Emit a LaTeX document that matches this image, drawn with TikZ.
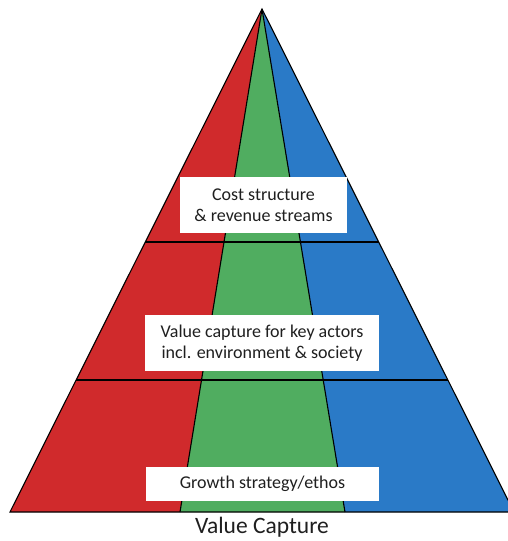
\documentclass[tikz,border=0pt]{standalone}
\usepackage{fontspec}
\setmainfont{Carlito}
\usetikzlibrary{calc}
\definecolor{pred}{HTML}{D02A2C}
\definecolor{pgreen}{HTML}{50AD60}
\definecolor{pblue}{HTML}{2A7AC7}
\begin{document}
\begin{tikzpicture}[x=1pt,y=-1pt,
  edge/.style={draw=black,line width=1.1pt},
  lbl/.style={fill=white,inner sep=0pt,font=\fontsize{18}{21}\selectfont,align=center,text=black!88}]
\useasboundingbox (0,0) rectangle (507,541);
\coordinate (A) at (262,9);
\coordinate (BL) at (10,512);
\coordinate (BR) at (514,512);
\coordinate (DL) at (180,512);
\coordinate (DR) at (345,512);
\fill[pred] (A) -- (BL) -- (DL) -- cycle;
\fill[pgreen] (A) -- (DL) -- (DR) -- cycle;
\fill[pblue] (A) -- (DR) -- (BR) -- cycle;
\draw[edge] (A) -- (DL);
\draw[edge] (A) -- (DR);
\coordinate (L1a) at ($(A)!0.4632!(BL)$);
\coordinate (L1b) at ($(A)!0.4632!(BR)$);
\coordinate (L2a) at ($(A)!0.7376!(BL)$);
\coordinate (L2b) at ($(A)!0.7376!(BR)$);
\draw[edge] (L1a) -- (L1b);
\draw[edge] (L2a) -- (L2b);
\draw[edge,line join=miter] (A) -- (BL) -- (BR) -- cycle;
\node[lbl,minimum width=167pt,minimum height=56pt] (c1) at (263.5,205) {Cost structure\\\& revenue streams};
\node[lbl,minimum width=234pt,minimum height=56pt] (c2) at (262,343) {Value capture for key actors\\incl. environment \& society};
\node[lbl,minimum width=233pt,minimum height=34pt] (c3) at (262.5,484) {Growth strategy/ethos};
\node[font=\fontsize{23.5}{28}\selectfont,text=black!88] (t) at (262,527) {Value Capture};
\end{tikzpicture}
\end{document}
